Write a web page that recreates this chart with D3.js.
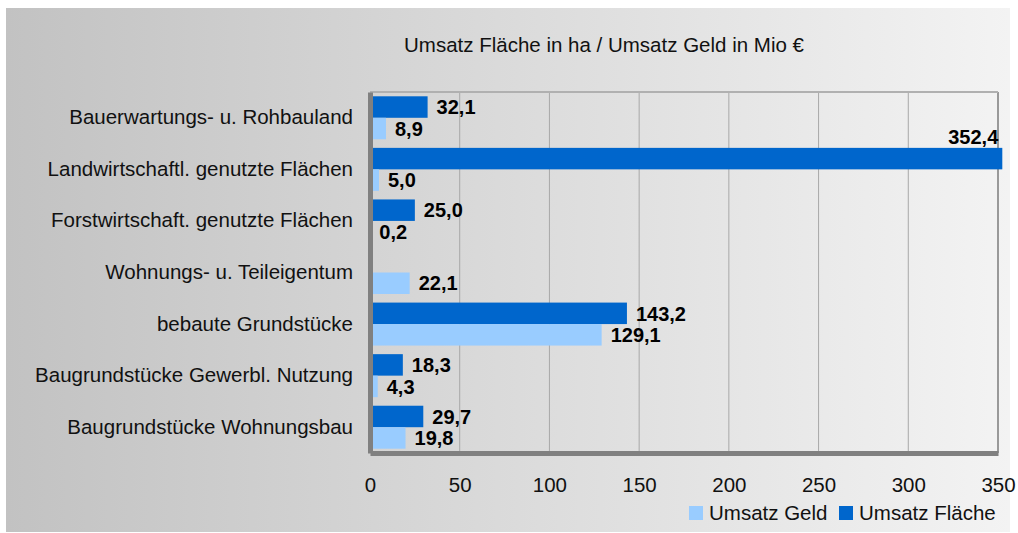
<!DOCTYPE html>
<html>
<head>
<meta charset="utf-8">
<script src="https://cdn.jsdelivr.net/npm/d3@7"></script>
<style>
  body { margin: 0; background: #fff; }
  svg text { font-family: "Liberation Sans", Arial, sans-serif; }
</style>
</head>
<body>
<div id="chart"></div>
<script>
// DATA (top to bottom as shown)
const categories = [
  "Bauerwartungs- u. Rohbauland",
  "Landwirtschaftl. genutzte Flächen",
  "Forstwirtschaft. genutzte Flächen",
  "Wohnungs- u. Teileigentum",
  "bebaute Grundstücke",
  "Baugrundstücke Gewerbl. Nutzung",
  "Baugrundstücke Wohnungsbau"
];
const flaeche = [32.1, 352.4, 25.0, null, 143.2, 18.3, 29.7]; // Umsatz Fläche in ha
const geld = [8.9, 5.0, 0.2, 22.1, 129.1, 4.3, 19.8];         // Umsatz Geld in Mio €
const xTicks = [0, 50, 100, 150, 200, 250, 300, 350];
const seriesNames = ["Umsatz Fläche", "Umsatz Geld"];
const legendOrder = ["Umsatz Geld", "Umsatz Fläche"];
const title = "Umsatz Fläche in ha / Umsatz Geld in Mio €";

const width = 1018, height = 533;
const margin = {top: 92, left: 370, right: 20, bottom: 80};
const color = {"Umsatz Fläche": "#0066cc", "Umsatz Geld": "#99ccff"};
const fontSize = "20.5px";

const rows = categories.map((c, i) => ({cat: c, "Umsatz Fläche": flaeche[i], "Umsatz Geld": geld[i]}));

const svg = d3.select("#chart").append("svg")
    .attr("width", width)
    .attr("height", height);

// background gradient
const defs = svg.append("defs");
const grad = defs.append("linearGradient").attr("id", "bg")
    .attr("x1", "0%").attr("x2", "100%").attr("y1", "0%").attr("y2", "0%");
grad.append("stop").attr("offset", "0%").attr("stop-color", "#c2c2c2");
grad.append("stop").attr("offset", "100%").attr("stop-color", "#f3f3f3");

svg.append("rect")
    .attr("x", 6).attr("y", 8)
    .attr("width", 1004).attr("height", 524)
    .attr("fill", "url(#bg)");

// SCALES
const x = d3.scaleLinear().domain([0, 350]).range([margin.left, 998]);
const y = d3.scaleBand().domain(categories).range([margin.top, 453]).padding(0);
const y1 = d3.scaleBand().domain(seriesNames).range([0, y.bandwidth()]).paddingOuter(0.2).paddingInner(0);

// gridlines
svg.append("g")
  .selectAll("line")
  .data(xTicks.slice(1))
  .join("line")
    .attr("x1", d => x(d)).attr("x2", d => x(d))
    .attr("y1", margin.top).attr("y2", 453)
    .attr("stroke", d => d === 350 ? "#999" : "#a8a8a8")
    .attr("stroke-width", d => d === 350 ? 2 : 1);

// top border of plot
svg.append("line")
    .attr("x1", x(0)).attr("x2", x(350))
    .attr("y1", margin.top).attr("y2", margin.top)
    .attr("stroke", "#b0b0b0").attr("stroke-width", 2);

// BARS
const groups = svg.append("g")
  .selectAll("g")
  .data(rows)
  .join("g")
    .attr("transform", d => `translate(0,${y(d.cat)})`);

groups.selectAll("rect")
  .data(d => seriesNames.filter(s => d[s] != null).map(s => ({s: s, v: d[s]})))
  .join("rect")
    .attr("x", x(0))
    .attr("y", d => y1(d.s))
    .attr("width", d => x(d.v) - x(0))
    .attr("height", y1.bandwidth())
    .attr("fill", d => color[d.s]);

// value labels
const fmt = v => d3.format(".1f")(v).replace(".", ",");
groups.selectAll("text")
  .data(d => seriesNames.filter(s => d[s] != null).map(s => ({s: s, v: d[s]})))
  .join("text")
    .attr("x", d => d.v > 350 ? x(d.v) - 4 : x(d.v) + 9)
    .attr("y", d => d.v > 350 ? y1(d.s) - 4 : y1(d.s) + y1.bandwidth() / 2)
    .attr("dy", d => d.v > 350 ? 0 : "0.36em")
    .attr("text-anchor", d => d.v > 350 ? "end" : "start")
    .style("font-size", "20px")
    .style("font-weight", "bold")
    .attr("fill", "#000")
    .text(d => fmt(d.v));

// AXES
const yAxis = d3.axisLeft(y).tickSize(0).tickPadding(17);
svg.append("g")
    .attr("transform", `translate(${x(0)},0)`)
    .call(yAxis)
    .call(g => g.select(".domain").attr("stroke", "#808080").attr("stroke-width", 5))
    .call(g => g.selectAll("text").style("font-size", fontSize).attr("fill", "#111"));

const xAxis = d3.axisBottom(x).tickValues(xTicks).tickSize(0).tickPadding(24);
svg.append("g")
    .attr("transform", `translate(0,453)`)
    .call(xAxis)
    .call(g => g.select(".domain").attr("stroke", "#808080").attr("stroke-width", 5))
    .call(g => g.selectAll("text").style("font-size", fontSize).attr("fill", "#111"));

// TITLE
svg.append("text")
    .attr("x", 604).attr("y", 52)
    .attr("text-anchor", "middle")
    .style("font-size", fontSize)
    .attr("fill", "#111")
    .text(title);

// LEGEND
const legend = svg.append("g").attr("transform", "translate(689,506)");
const legendX = [0, 150];
legend.selectAll("g")
  .data(legendOrder)
  .join("g")
    .attr("transform", (d, i) => `translate(${legendX[i]},0)`)
    .call(g => g.append("rect")
        .attr("width", 14).attr("height", 14)
        .attr("fill", d => color[d]))
    .call(g => g.append("text")
        .attr("x", 20).attr("y", 14)
        .style("font-size", fontSize)
        .attr("fill", "#111")
        .text(d => d));
</script>
</body>
</html>
